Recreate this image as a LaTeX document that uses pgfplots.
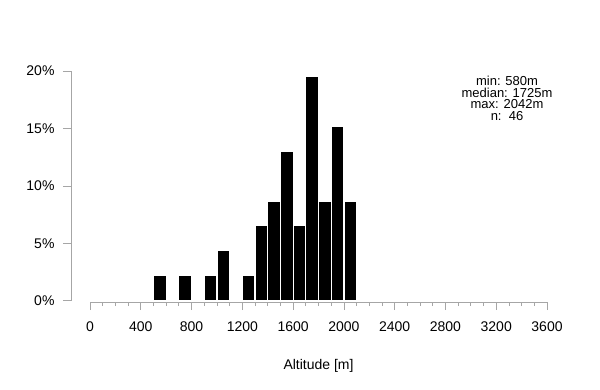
\documentclass[border=0pt]{standalone}
\usepackage{fontspec}
\setmainfont{Liberation Sans}
\usepackage{pgfplots}
\pgfplotsset{compat=1.18}
\begin{document}
\begin{tikzpicture}
\path[use as bounding box] (-71bp,-88bp) rectangle (529bp,302bp);
\begin{axis}[
 at={(0,0)}, anchor=south west,
 scale only axis, width=476bp, height=231bp,
 xmin=-150, xmax=3600, ymin=-0.1, ymax=20,
 axis x line*=bottom, axis y line*=left,
 x axis line style={draw=none}, y axis line style={draw=none},
 tick align=outside,
 xtick={0,400,...,3600},
 xticklabels={0,400,800,1200,1600,2000,2400,2800,3200,3600},
 minor x tick num=3,
 ytick={0,5,10,15,20},
 yticklabels={0\%,5\%,10\%,15\%,20\%},
 major tick length=8bp, minor tick length=4bp,
 tick style={gray!70, line width=0.8bp},
 ticklabel style={font=\fontsize{14bp}{16bp}\selectfont, text=black},
 xticklabel style={yshift=-8.5bp},
 yticklabel style={xshift=-5bp},
 clip=false,
]
\draw[gray!70, line width=0.8bp] (axis cs:0,-0.1) -- (axis cs:3600,-0.1);
\draw[gray!70, line width=0.8bp] (axis cs:-150,0) -- (axis cs:-150,20);
\addplot[ybar, bar width=100, bar shift=0pt, fill=black, draw=white, line width=1.2bp] coordinates {
(550,2.174) (750,2.174) (950,2.174) (1050,4.348) (1250,2.174) (1350,6.522) (1450,8.696) (1550,13.043) (1650,6.522) (1750,19.565) (1850,8.696) (1950,15.217) (2050,8.696)};
\node[font=\fontsize{14bp}{16bp}\selectfont] at (axis cs:1800,-0.1) [yshift=-63.5bp] {Altitude [m]};
\node[align=center, font=\fontsize{13bp}{11.8bp}\selectfont] at (axis cs:3285,17.62) {min: 580m\\median: 1725m\\max: 2042m\\n:\ \ 46};
\end{axis}
\end{tikzpicture}
\end{document}
